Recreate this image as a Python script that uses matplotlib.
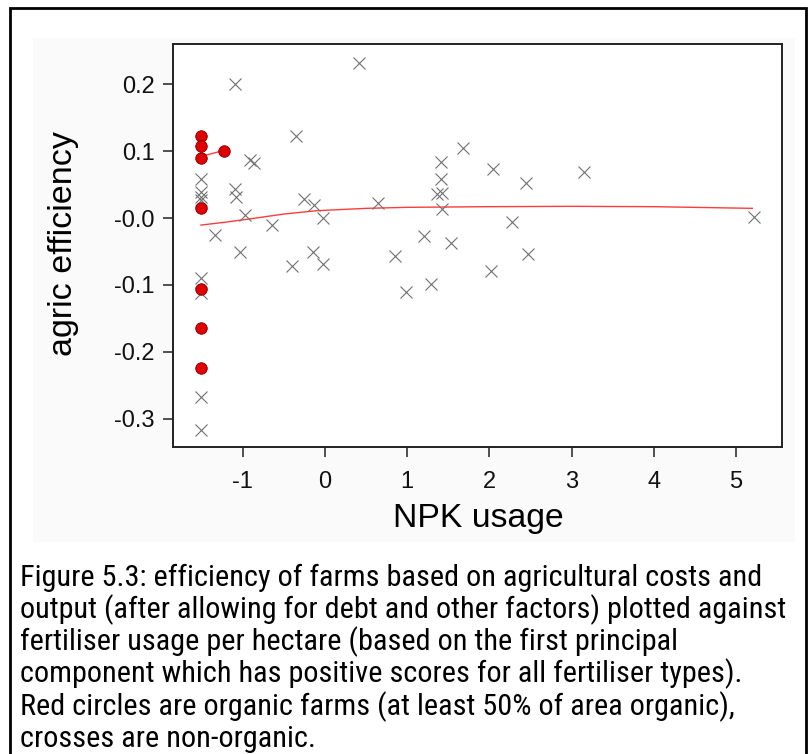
import matplotlib
matplotlib.use("Agg")
import matplotlib.pyplot as plt
from matplotlib.patches import Rectangle
from matplotlib import font_manager as fm

plt.rcParams['font.family'] = ['Liberation Sans', 'DejaVu Sans']
plt.rcParams['axes.unicode_minus'] = False

# ---- data ----
cross_x = [0.41, -1.095, -0.357, -0.91, -0.87, -1.51, -1.51, -1.51, -1.51,
           -1.095, -1.083, -0.98, -1.34, -1.04, -0.64, -0.405, -0.25, -0.14,
           -0.03, -0.15, -0.03, 0.64, 0.85, 0.985, -1.51, -1.51, -1.51, -1.51,
           1.675, 1.41, 1.41, 1.36, 1.42, 1.42, 2.04, 2.45, 3.155, 2.28,
           1.205, 1.53, 2.02, 2.465, 1.29, 5.22]
cross_y = [0.232, 0.200, 0.123, 0.086, 0.082, 0.058, 0.039, 0.032, 0.027,
           0.044, 0.031, 0.005, -0.025, -0.050, -0.010, -0.072, 0.028, 0.019,
           0.0005, -0.050, -0.069, 0.023, -0.056, -0.110, -0.090, -0.112,
           -0.267, -0.316,
           0.105, 0.083, 0.059, 0.036, 0.037, 0.013, 0.073, 0.053, 0.069,
           -0.0055, -0.027, -0.037, -0.079, -0.054, -0.099, 0.002]

organic_x = [-1.51, -1.51, -1.51, -1.23, -1.51, -1.51, -1.51, -1.51]
organic_y = [0.123, 0.107, 0.089, 0.100, 0.0145, -0.106, -0.164, -0.224]

smooth_x = [-1.51, -1.2, -0.9, -0.5, -0.1, 0.5, 1.0, 2.0, 3.0, 4.0, 5.2]
smooth_y = [-0.0105, -0.006, -0.001, 0.006, 0.011, 0.0145, 0.016, 0.017,
            0.0175, 0.017, 0.0145]

org_smooth_x = [-1.51, -1.23]
org_smooth_y = [0.092, 0.101]

xticks = [-1, 0, 1, 2, 3, 4, 5]
xtick_labels = ['-1', '0', '1', '2', '3', '4', '5']
yticks = [0.2, 0.1, 0.0, -0.1, -0.2, -0.3]
ytick_labels = ['0.2', '0.1', '-0.0', '-0.1', '-0.2', '-0.3']

caption_lines = [
    "Figure 5.3: efficiency of farms based on agricultural costs and",
    "output (after allowing for debt and other factors) plotted against",
    "fertiliser usage per hectare (based on the first principal",
    "component which has positive scores for all fertiliser types).",
    "Red circles are organic farms (at least 50% of area organic),",
    "crosses are non-organic.",
]

W, H = 812, 754
fig = plt.figure(figsize=(W / 100, H / 100), dpi=100)
fig.patch.set_facecolor('white')


def fx(px):
    return px / W


def fy(py):
    return 1 - py / H


# pick a narrow sans font for the caption if one is installed
def find_narrow():
    prefs = ['liberation sans narrow', 'arial narrow', 'roboto condensed',
             'open sans condensed', 'noto sans', 'dejavu sans', 'inter', 'lato']
    cands = []
    for f in fm.fontManager.ttflist:
        name = f.name.lower()
        fn = f.fname.lower()
        st = str(f.stretch).lower()
        narrow = ('narrow' in name or 'condensed' in name or 'condensed' in st
                  or 'narrow' in fn or 'condensed' in fn)
        if not narrow:
            continue
        if 'bold' in fn or 'italic' in fn or 'oblique' in fn or 'light' in fn \
                or 'medium' in fn or 'thin' in fn or 'black' in fn:
            continue
        if f.weight not in (400, 'normal', 'regular'):
            continue
        if 'extra' in fn or 'ultra' in fn or 'semi' in fn:
            continue
        rank = len(prefs)
        for i, p in enumerate(prefs):
            if name.startswith(p):
                rank = i
                break
        cands.append((rank, f.fname))
    if cands:
        cands.sort()
        return fm.FontProperties(fname=cands[0][1])
    return fm.FontProperties(family=['Liberation Sans', 'DejaVu Sans'])


cap_fp = find_narrow()

# faint background panel of the embedded chart
fig.patches.append(Rectangle((fx(33), fy(542)), fx(795) - fx(33), fy(38) - fy(542),
                             transform=fig.transFigure, facecolor='#fafafa',
                             edgecolor='none', zorder=-5))
# outer border
fig.patches.append(Rectangle((fx(10), fy(770)), fx(806) - fx(10), fy(8) - fy(770),
                             transform=fig.transFigure, facecolor='none',
                             edgecolor='black', linewidth=2.0, zorder=5))

ax = fig.add_axes([fx(173), fy(447), fx(782) - fx(173), fy(44) - fy(447)])
ax.set_zorder(1)
ax.set_facecolor('white')
ax.set_xlim(-1.85, 5.56)
ax.set_ylim(-0.342, 0.26)

ax.plot(smooth_x, smooth_y, color='#ff3b3b', linewidth=1.0, zorder=2)
ax.plot(org_smooth_x, org_smooth_y, color='#ff3b3b', linewidth=1.0, zorder=2)
ax.plot(cross_x, cross_y, linestyle='none', marker='x', markersize=9.0,
        markeredgewidth=0.8, color='#707070', zorder=3)
ax.plot(organic_x, organic_y, linestyle='none', marker='o', markersize=8.3,
        markerfacecolor='#e00000', markeredgecolor='#7a0000',
        markeredgewidth=0.6, zorder=4)

for s in ax.spines.values():
    s.set_linewidth(1.4)
    s.set_color('#222222')

ax.set_xticks(xticks)
ax.set_xticklabels(xtick_labels)
ax.set_yticks(yticks)
ax.set_yticklabels(ytick_labels)
ax.tick_params(axis='both', direction='out', length=7.5, width=1.1,
               color='#222222', labelsize=17, labelcolor='#111111')
ax.tick_params(axis='x', pad=10)
ax.tick_params(axis='y', pad=5.5)

fig.text(fx(478), fy(527), "NPK usage", fontsize=24.3, ha='center',
         va='baseline', color='black', zorder=3)
fig.text(fx(64), fy(244), "agric efficiency", fontsize=24.5, rotation=90,
         ha='center', va='center', color='black', zorder=3)

cap_texts = []
for i, line in enumerate(caption_lines):
    t = fig.text(fx(20), fy(586 + 32.2 * i), line, fontproperties=cap_fp,
                 fontsize=21, ha='left', va='baseline', color='black', zorder=3)
    cap_texts.append(t)

# fit caption so that its widest line spans about 765 px, like the reference
renderer = fig.canvas.get_renderer()
w0 = max(t.get_window_extent(renderer).width for t in cap_texts)
scale = 765.0 / w0
for t in cap_texts:
    t.set_fontsize(21 * scale)

fig.savefig('out.png', dpi=100, facecolor='white')
